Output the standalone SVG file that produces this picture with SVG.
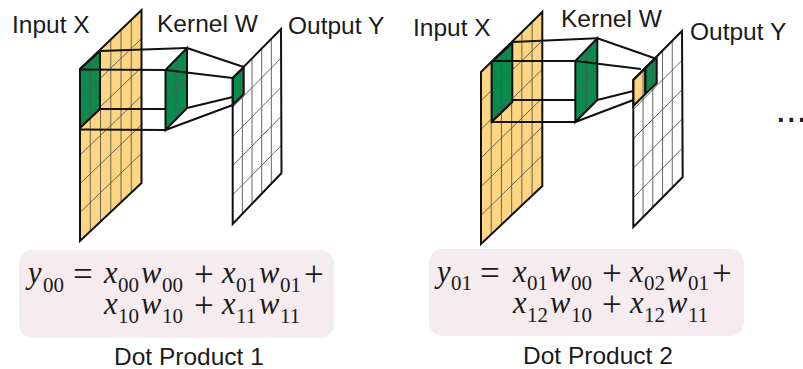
<svg xmlns="http://www.w3.org/2000/svg" width="803" height="369" viewBox="0 0 803 369">
<style>
.lbl{font-family:"Liberation Sans",Arial,sans-serif;font-size:24.5px;fill:#1a1a1a}
.m{font-family:"Liberation Serif","Times New Roman",serif;font-size:30.5px;font-style:italic;fill:#1a1a1a}
.s{font-family:"Liberation Serif","Times New Roman",serif;font-size:21px;fill:#1a1a1a}
.o{font-family:"Liberation Serif","Times New Roman",serif;font-size:35px;fill:#1a1a1a}
.box{fill:#f6ebef}
.g line{stroke:#555;stroke-width:.9;vector-effect:non-scaling-stroke}
.edge{fill:none;stroke:#111;stroke-width:2;stroke-linejoin:miter}
.thin{stroke:#555;stroke-width:.9}
.c line{stroke:#111;stroke-width:2}
.y{fill:#fed681}.w{fill:#fff}.gr{fill:#0b8a4d}
</style>
<defs>
<g id="grid6" class="g">
<line x1="1" y1="0" x2="1" y2="6"/><line x1="2" y1="0" x2="2" y2="6"/><line x1="3" y1="0" x2="3" y2="6"/><line x1="4" y1="0" x2="4" y2="6"/><line x1="5" y1="0" x2="5" y2="6"/>
<line x1="0" y1="1" x2="6" y2="1"/><line x1="0" y1="2" x2="6" y2="2"/><line x1="0" y1="3" x2="6" y2="3"/><line x1="0" y1="4" x2="6" y2="4"/><line x1="0" y1="5" x2="6" y2="5"/>
</g>
<g id="grid5" class="g">
<line x1="1" y1="0" x2="1" y2="5"/><line x1="2" y1="0" x2="2" y2="5"/><line x1="3" y1="0" x2="3" y2="5"/><line x1="4" y1="0" x2="4" y2="5"/>
<line x1="0" y1="1" x2="5" y2="1"/><line x1="0" y1="2" x2="5" y2="2"/><line x1="0" y1="3" x2="5" y2="3"/><line x1="0" y1="4" x2="5" y2="4"/>
</g>
</defs>

<g id="panel-1">
<g id="input-x-1">
<polygon class="y" points="80,69 141.5,10 141.5,183 80,241"/>
<polygon class="gr" points="80,69 100,51 100,109 80,128"/>
<use href="#grid6" transform="matrix(10.25 -9.83 0 28.67 80 69)"/>
<polygon class="edge" points="80,69 141.5,10 141.5,183 80,241"/>
<polygon class="edge" points="80,69 100,51 100,109 80,128"/>
<text class="lbl" x="12" y="33">Input X</text>
</g>
<g id="kernel-w-1">
<polygon class="gr" points="165.5,70 187,48 187,108 165.5,130"/>
<line class="thin" x1="176" y1="59" x2="176" y2="119"/>
<line class="thin" x1="165.5" y1="100" x2="187" y2="78"/>
<polygon class="edge" points="165.5,70 187,48 187,108 165.5,130"/>
<text class="lbl" x="157" y="32">Kernel W</text>
</g>
<g id="output-y-1">
<polygon class="w" points="232.7,78 281,29 281.5,173 232.7,224"/>
<polygon class="gr" points="232.7,78 243.7,67.5 243.7,94 232.7,105"/>
<use href="#grid5" transform="matrix(9.66 -9.8 0 29.2 232.7 78)"/>
<polygon class="edge" points="232.7,78 281,29 281.5,173 232.7,224"/>
<polygon class="edge" points="232.7,78 243.7,67.5 243.7,94 232.7,105"/>
<text class="lbl" x="288" y="34">Output Y</text>
</g>
<g id="connectors-1" class="c">
<line x1="100" y1="51" x2="187" y2="48"/>
<line x1="80" y1="69.500" x2="165.5" y2="70"/>
<line x1="100" y1="109" x2="165.500" y2="109"/>
<line x1="80" y1="129.500" x2="165.500" y2="130"/>
<line x1="187" y1="48" x2="243.700" y2="67"/>
<line x1="165.500" y1="70" x2="232.700" y2="78"/>
<line x1="187" y1="108" x2="232.700" y2="97"/>
<line x1="165.500" y1="130" x2="232.700" y2="105"/>
</g>
<g id="formula-1">
<rect class="box" x="19" y="250" width="315" height="88" rx="14"/>
<text class="m" x="28" y="283">y</text><text class="s" x="43" y="292">00</text>
<text class="o" x="73" y="286">=</text>
<text class="m" x="104" y="283">x</text><text class="s" x="118" y="292">00</text>
<text class="m" x="141" y="283">w</text><text class="s" x="162" y="292">00</text>
<text class="o" x="194" y="286">+</text>
<text class="m" x="222" y="283">x</text><text class="s" x="236" y="292">01</text>
<text class="m" x="259" y="283">w</text><text class="s" x="280" y="292">01</text>
<text class="o" x="304" y="286">+</text>
<text class="m" x="104" y="314">x</text><text class="s" x="118" y="323">10</text>
<text class="m" x="141" y="314">w</text><text class="s" x="162" y="323">10</text>
<text class="o" x="194" y="317">+</text>
<text class="m" x="222" y="314">x</text><text class="s" x="236" y="323">11</text>
<text class="m" x="259" y="314">w</text><text class="s" x="280" y="323">11</text>
<text class="lbl" x="114" y="365">Dot Product 1</text>
</g>
</g>

<g id="panel-2">
<g id="input-x-2">
<polygon class="y" points="481,72 542.300,12 542.300,186 481,244"/>
<polygon class="gr" points="491.700,62 512.300,43 512.300,102 491.700,122"/>
<use href="#grid6" transform="matrix(10.22 -10 0 28.67 481 72)"/>
<polygon class="edge" points="481,72 542.300,12 542.300,186 481,244"/>
<polygon class="edge" points="491.700,62 512.300,43 512.300,102 491.700,122"/>
<text class="lbl" x="413" y="36">Input X</text>
</g>
<g id="kernel-w-2">
<polygon class="gr" points="575.300,61 597.300,38.300 597.300,100 575.300,122"/>
<line class="thin" x1="586.300" y1="50" x2="586.300" y2="111"/>
<line class="thin" x1="575.300" y1="91.500" x2="597.300" y2="69"/>
<polygon class="edge" points="575.300,61 597.300,38.300 597.300,100 575.300,122"/>
<text class="lbl" x="561" y="27">Kernel W</text>
</g>
<g id="output-y-2">
<polygon class="w" points="633.300,80 682,31 682.700,177 633.300,227"/>
<polygon class="y" points="633.300,80 645.300,68 645.300,94 633.300,106"/>
<polygon class="gr" points="645.300,68 656.700,57.300 656.700,83.300 645.300,94"/>
<use href="#grid5" transform="matrix(9.74 -9.8 0 29.4 633.3 80)"/>
<polygon class="edge" points="633.300,80 682,31 682.700,177 633.300,227"/>
<polygon class="edge" points="633.300,80 645.300,68 645.300,94 633.300,106"/>
<polygon class="edge" points="645.300,68 656.700,57.300 656.700,83.300 645.300,94"/>
<text class="lbl" x="690" y="40">Output Y</text>
</g>
<g id="connectors-2" class="c">
<line x1="512.300" y1="42" x2="597.300" y2="38.300"/>
<line x1="491.700" y1="61" x2="575.300" y2="61"/>
<line x1="512.300" y1="100" x2="575.300" y2="100"/>
<line x1="491.700" y1="122" x2="575.300" y2="122"/>
<line x1="597.300" y1="38.300" x2="654" y2="58"/>
<line x1="575.300" y1="61" x2="641" y2="69"/>
<line x1="597.300" y1="100" x2="633.300" y2="91"/>
<line x1="575.300" y1="122" x2="633.300" y2="100"/>
</g>
<g id="formula-2">
<rect class="box" x="429" y="249" width="315" height="87" rx="14"/>
<text class="m" x="437" y="282">y</text><text class="s" x="451" y="290">01</text>
<text class="o" x="480" y="285">=</text>
<text class="m" x="513" y="282">x</text><text class="s" x="527" y="290">01</text>
<text class="m" x="550" y="282">w</text><text class="s" x="571" y="290">00</text>
<text class="o" x="602" y="285">+</text>
<text class="m" x="630" y="282">x</text><text class="s" x="644" y="290">02</text>
<text class="m" x="667" y="282">w</text><text class="s" x="688" y="290">01</text>
<text class="o" x="712" y="285">+</text>
<text class="m" x="513" y="313">x</text><text class="s" x="527" y="322">12</text>
<text class="m" x="550" y="313">w</text><text class="s" x="571" y="322">10</text>
<text class="o" x="602" y="316">+</text>
<text class="m" x="630" y="313">x</text><text class="s" x="644" y="322">12</text>
<text class="m" x="667" y="313">w</text><text class="s" x="688" y="322">11</text>
<text class="lbl" x="523" y="364">Dot Product 2</text>
</g>
</g>
<text id="ellipsis" class="lbl" x="775.400" y="122" style="font-size:38px">...</text>
</svg>
